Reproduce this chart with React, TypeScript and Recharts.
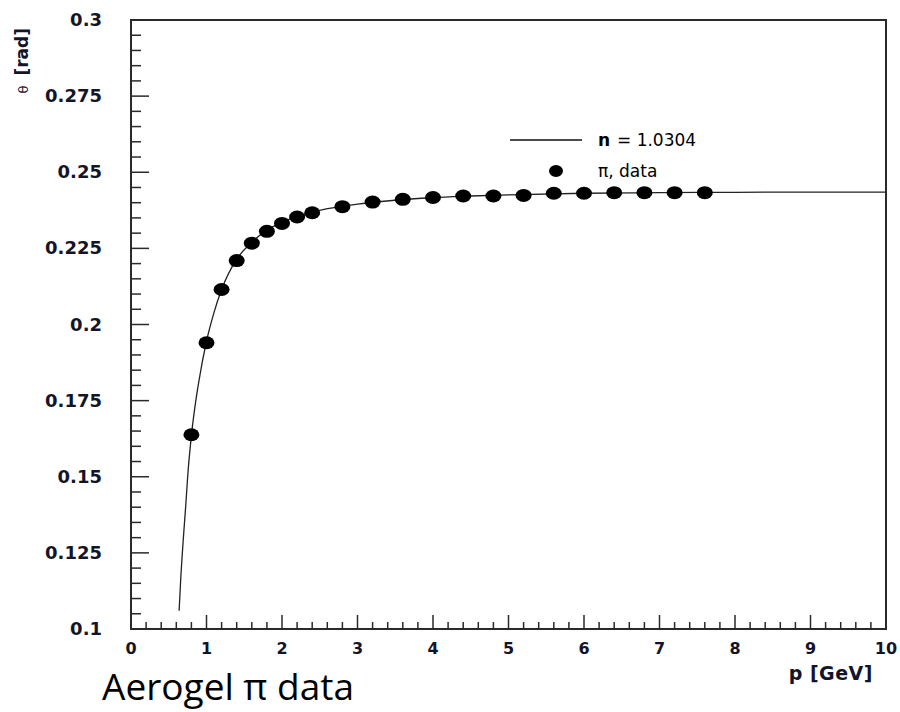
import React from "react";
import {
  ComposedChart,
  XAxis,
  YAxis,
  Line,
  Scatter,
  ReferenceArea,
  Customized,
} from "recharts";

// pion data points
const momentum = [0.8, 1.0, 1.2, 1.4, 1.6, 1.8, 2.0, 2.2, 2.4, 2.8, 3.2, 3.6, 4.0, 4.4, 4.8, 5.2, 5.6, 6.0, 6.4, 6.8, 7.2, 7.6];
const thetaData = [0.1638, 0.194, 0.2115, 0.221, 0.2267, 0.2306, 0.2332, 0.2353, 0.2367, 0.2387, 0.2402, 0.2411, 0.2417, 0.2422, 0.2422, 0.2424, 0.2431, 0.2431, 0.2433, 0.2433, 0.2433, 0.2433];

// n = 1.0304 curve
const fitMomentum = [0.637, 0.66, 0.694, 0.725, 0.752, 0.8, 0.85, 0.9, 1.0, 1.1, 1.2, 1.4, 1.6, 1.8, 2.0, 2.2, 2.5, 3.0, 3.5, 4.0, 4.5, 5.0, 6.0, 7.0, 8.0, 9.0, 10.0];
const fitTheta = [0.106, 0.117, 0.13, 0.1405, 0.1505, 0.1635, 0.1735, 0.1815, 0.1945, 0.204, 0.2115, 0.2215, 0.227, 0.231, 0.2335, 0.2355, 0.2375, 0.2395, 0.2408, 0.2417, 0.2422, 0.2426, 0.2431, 0.2433, 0.2434, 0.2435, 0.2435];

const xMajor = [0, 1, 2, 3, 4, 5, 6, 7, 8, 9, 10];
const yMajor = [0.1, 0.125, 0.15, 0.175, 0.2, 0.225, 0.25, 0.275, 0.3];

const points = momentum.map((p, i) => ({ p, theta: thetaData[i] }));
const fit = fitMomentum.map((p, i) => ({ p, theta: fitTheta[i] }));

// major ticks plus 4 minor ticks in between (ROOT style)
const withMinor = (major: number[], n: number) => {
  const out: number[] = [];
  major.forEach((v, i) => {
    out.push(v);
    if (i < major.length - 1) {
      const step = (major[i + 1] - v) / (n + 1);
      for (let k = 1; k <= n; k++) out.push(+(v + step * k).toFixed(4));
    }
  });
  return out;
};
const xTicks = withMinor(xMajor, 4);
const yTicks = withMinor(yMajor, 4);
const isMajor = (v: number, list: number[]) => list.some((m) => Math.abs(m - v) < 1e-6);

const AXIS = "#2a2a2a";
const FONT = "'DejaVu Sans', sans-serif";

const renderXTick = (props: any) => {
  const { x, y, payload, index } = props;
  const major = isMajor(payload.value, xMajor);
  return (
    <g key={`xt-${index}`}>
      <line x1={x} x2={x} y1={y} y2={y - (major ? 14 : 7)} stroke={AXIS} strokeWidth={1.5} />
      {major && (
        <text x={x} y={y + 25} textAnchor="middle" fontFamily={FONT} fontWeight="bold" fontSize={16} fill="#141428">
          {payload.value}
        </text>
      )}
    </g>
  );
};

const renderYTick = (props: any) => {
  const { x, y, payload, index } = props;
  const major = isMajor(payload.value, yMajor);
  return (
    <g key={`yt-${index}`}>
      <line x1={x} x2={x + (major ? 18 : 10)} y1={y} y2={y} stroke={AXIS} strokeWidth={1.5} />
      {major && (
        <text x={x - 29} y={y + 6} textAnchor="end" fontFamily={FONT} fontWeight="bold" fontSize={18} fill="#141428">
          {payload.value}
        </text>
      )}
    </g>
  );
};

const Dot = (props: any) => <ellipse cx={props.cx} cy={props.cy} rx={8} ry={6.5} fill="#000" />;

const Overlay = () => (
  <g>
    {/* legend */}
    <line x1={510} x2={582} y1={140} y2={140} stroke="#111" strokeWidth={1.3} />
    <text x={598} y={146} fontFamily={FONT} fontWeight="bold" fontSize={17} fill="#000">n</text>
    <text x={617} y={146} fontFamily={FONT} fontSize={17} fill="#000">= 1.0304</text>
    <ellipse cx={556} cy={171} rx={7} ry={6} fill="#000" />
    <text x={598} y={177} fontFamily={FONT} fontSize={17} fill="#000">π, data</text>
    {/* axis titles */}
    <text transform="translate(28,28) rotate(-90)" textAnchor="end" fontFamily={FONT} fill="#141428">
      <tspan fontSize={13}>θ</tspan>
      <tspan dx={10} fontSize={17} fontWeight="bold">[rad]</tspan>
    </text>
    <text x={873} y={680} textAnchor="end" fontFamily={FONT} fontWeight="bold" fontSize={19} letterSpacing={0.5} fill="#141428">
      p [GeV]
    </text>
    <text x={102} y={700} fontFamily="'Open Sans', sans-serif" fontSize={37} fill="#000">
      Aerogel π data
    </text>
  </g>
);

export default function App() {
  return (
    <div style={{ position: "absolute", left: 0, top: 0, width: 900, height: 712, background: "#fff" }}>
      <ComposedChart width={900} height={712} margin={{ top: 20, right: 14, bottom: 0, left: 0 }}>
        <XAxis
          dataKey="p"
          type="number"
          domain={[0, 10]}
          ticks={xTicks}
          interval={0}
          height={83}
          tickSize={0}
          tickMargin={0}
          axisLine={false}
          tickLine={false}
          tick={renderXTick}
          allowDataOverflow
        />
        <YAxis
          type="number"
          domain={[0.1, 0.3]}
          ticks={yTicks}
          interval={0}
          width={131}
          tickSize={0}
          tickMargin={0}
          axisLine={false}
          tickLine={false}
          tick={renderYTick}
          allowDataOverflow
        />
        <ReferenceArea x1={0} x2={10} y1={0.1} y2={0.3} fill="none" stroke={AXIS} strokeWidth={2} ifOverflow="visible" />
        <Line
          data={fit}
          dataKey="theta"
          type="monotone"
          stroke="#222"
          strokeWidth={1.3}
          dot={false}
          isAnimationActive={false}
        />
        <Scatter data={points} dataKey="theta" shape={<Dot />} isAnimationActive={false} />
        <Customized component={Overlay} />
      </ComposedChart>
    </div>
  );
}
